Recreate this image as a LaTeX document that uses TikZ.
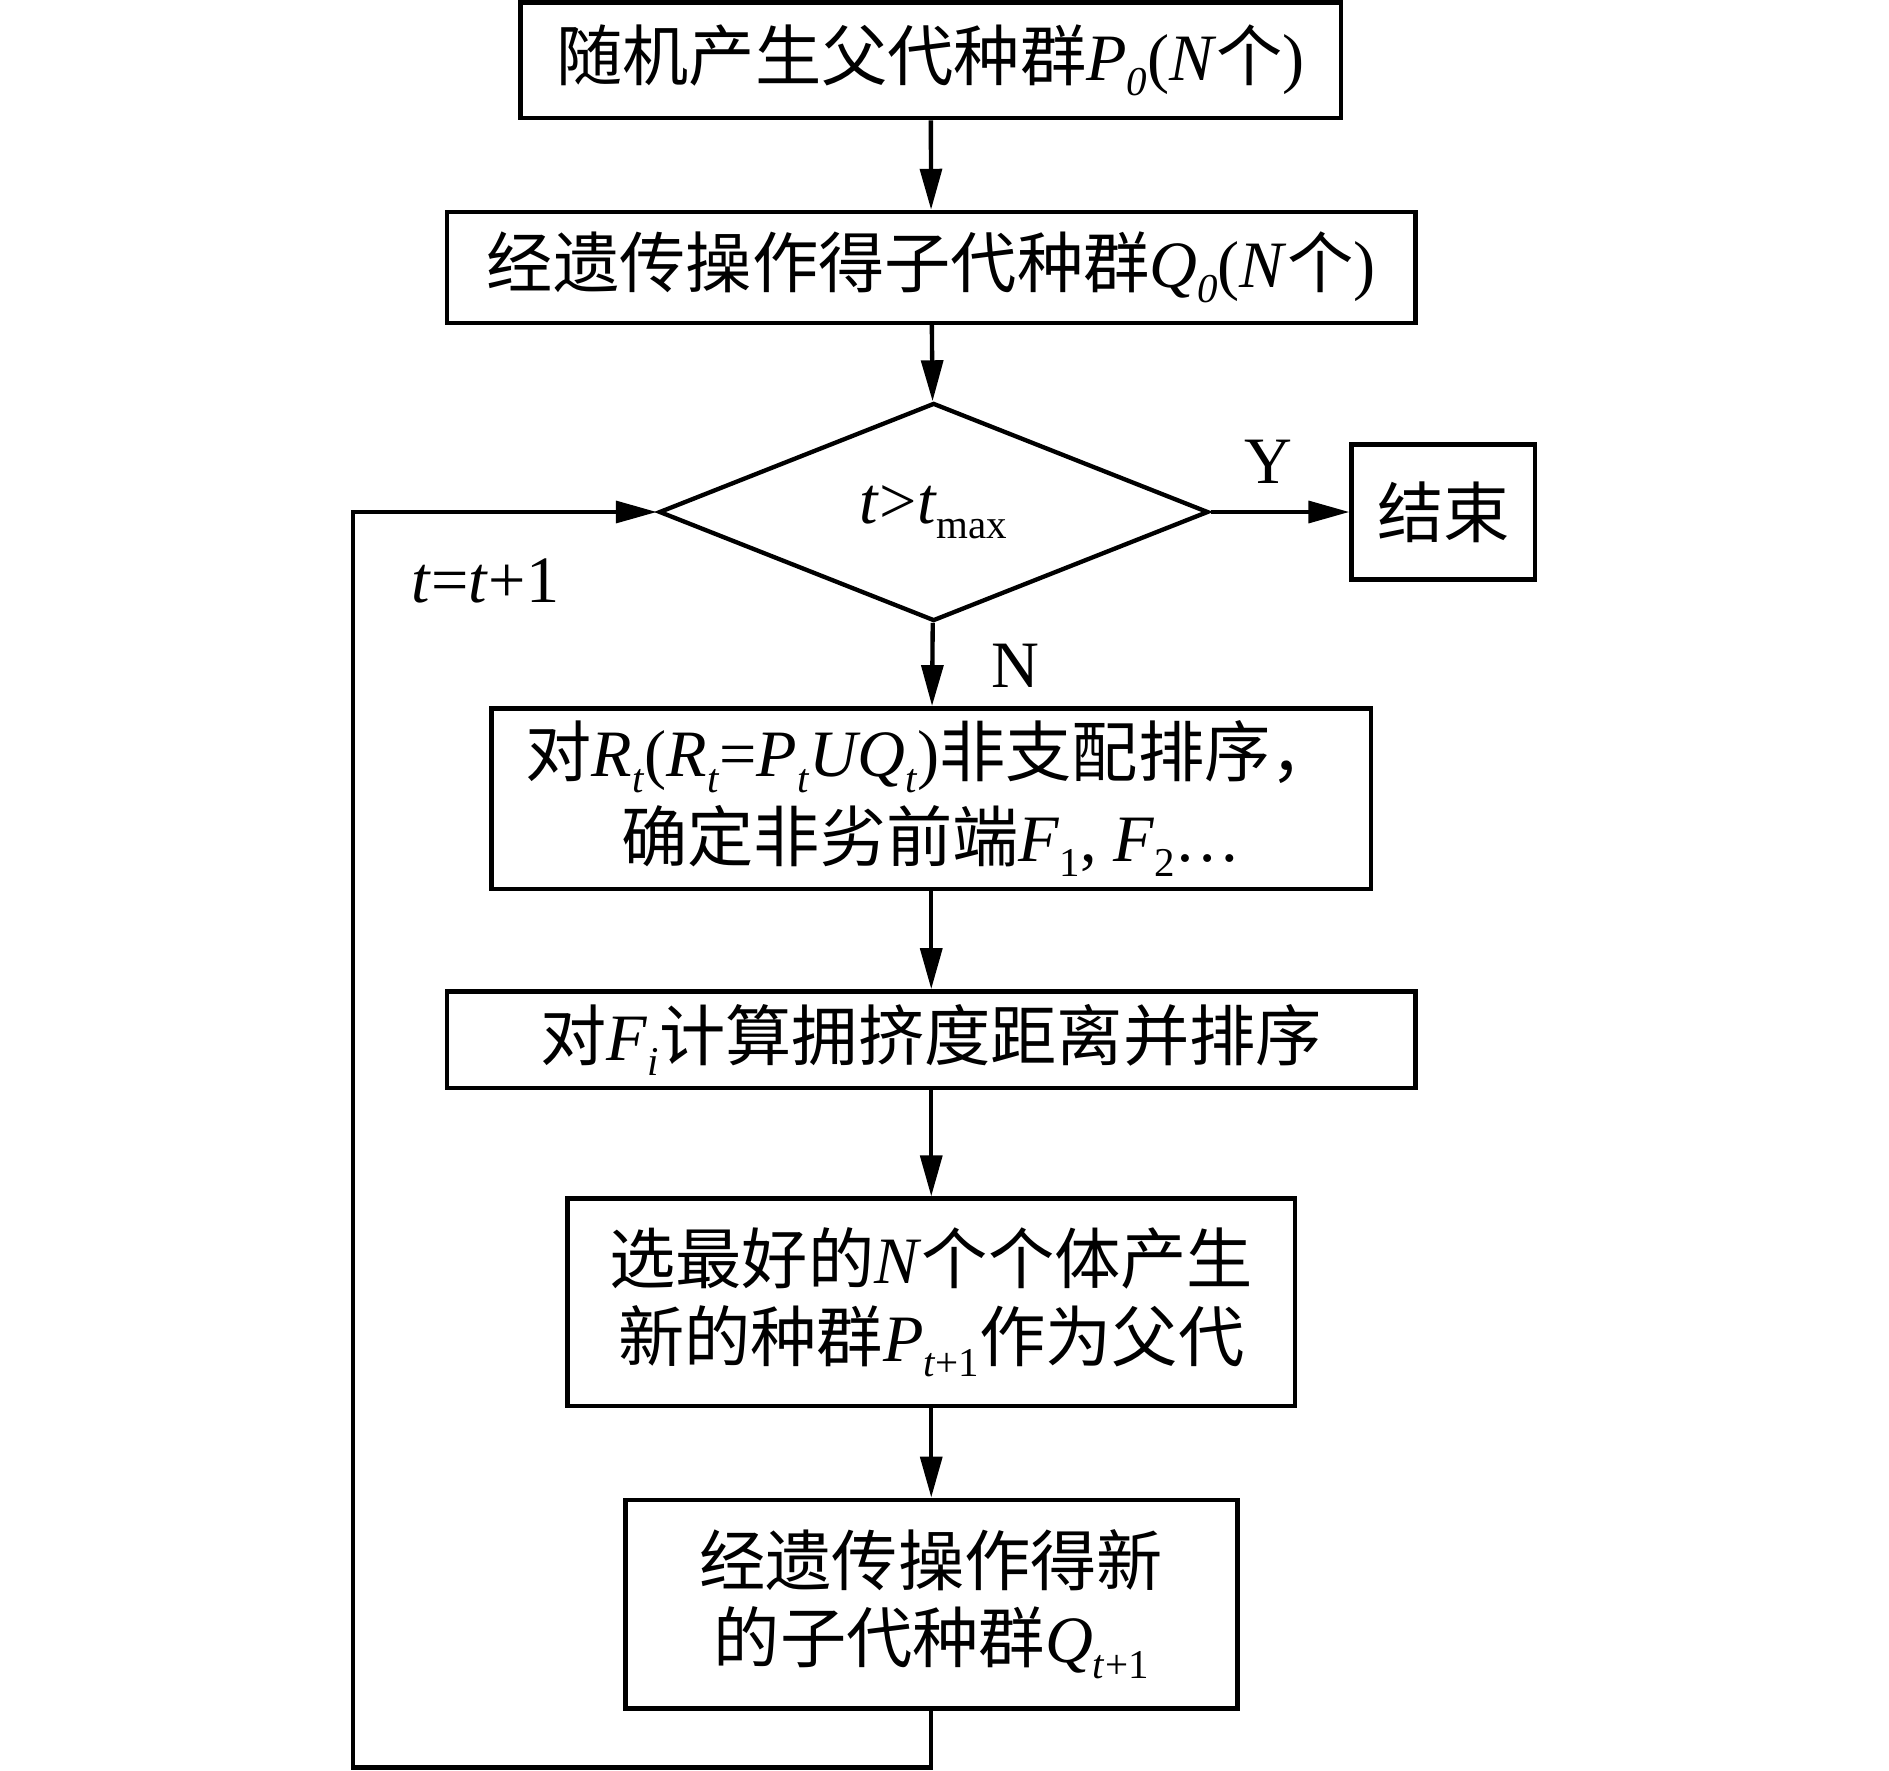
\documentclass[tikz,border=0pt]{standalone}
\usepackage{fontspec}
\setmainfont{Liberation Serif}
\newfontfamily\cjk{Noto Sans CJK SC}
\usetikzlibrary{arrows.meta,shapes.geometric}
\newcommand\zh[1]{{\cjk #1}}
\newcommand\sbs[1]{\raisebox{-0.5ex}{\fontsize{17}{17}\selectfont #1}}
\newcommand\iv[1]{\textit{#1}}
\begin{document}
\begin{tikzpicture}[x=0.5pt,y=-0.5pt,line width=1.8pt,
  font=\fontsize{27.5}{32}\selectfont,
  box/.style={draw,rectangle,inner sep=0pt,align=center,line width=1.9pt},
  arr/.style={-{Triangle[length=17pt,width=9pt]}},
  lbl/.style={inner sep=0pt}]
\useasboundingbox (0,0) rectangle (1568,1470);
\node[box,minimum width=340.5pt,minimum height=48pt] (b1) at (772.5,50)
  {\zh{随机产生父代种群}\iv{P}\sbs{\iv{0}}(\iv{N}\zh{个})};
\node[box,minimum width=402pt,minimum height=46pt] (b2) at (773,222)
  {\zh{经遗传操作得子代种群}\iv{Q}\sbs{\iv{0}}(\iv{N}\zh{个})};
\node[draw,diamond,inner sep=0pt,minimum width=228pt,minimum height=90.5pt,line width=1.8pt] (d) at (775,425)
  {\iv{t}>\iv{t}\sbs{max}};
\node[box,minimum width=76pt,minimum height=56pt] (end) at (1198,425) {\zh{结束}};
\node[box,minimum width=365pt,minimum height=75pt,font=\fontsize{27.5}{35}\selectfont] (b3) at (773,663)
  {\zh{对}\iv{R}\sbs{\iv{t}}(\iv{R}\sbs{\iv{t}}=\iv{P}\sbs{\iv{t}}\iv{UQ}\sbs{\iv{t}})\zh{非支配排序，}\\
   \zh{确定非劣前端}\iv{F}\sbs{1}, \iv{F}\sbs{2}\ldots};
\node[box,minimum width=402pt,minimum height=40pt] (b4) at (773,863)
  {\zh{对}\iv{F}\sbs{\iv{i}}\zh{计算拥挤度距离并排序}};
\node[box,minimum width=302pt,minimum height=86pt] (b5) at (773,1081)
  {\zh{选最好的}\iv{N}\zh{个个体产生}\\ \zh{新的种群}\iv{P}\sbs{\iv{t}+1}\zh{作为父代}};
\node[box,minimum width=254pt,minimum height=86.5pt] (b6) at (773,1331.5)
  {\zh{经遗传操作得新}\\ \zh{的子代种群}\iv{Q}\sbs{\iv{t}+1}};
\node[lbl] (y) at (1053,383) {Y};
\node[lbl] (n) at (843,553) {N};
\node[lbl] (inc) at (403,482) {\iv{t}=\iv{t}+1};
\coordinate (c1) at (773,1467);
\coordinate (c2) at (293,1467);
\coordinate (c3) at (293,425);
\draw[arr] (b1) -- (b2);
\draw[arr] (b2) -- (d);
\draw[arr] (d) -- (end);
\draw[arr] (d) -- (b3);
\draw[arr] (b3) -- (b4);
\draw[arr] (b4) -- (b5);
\draw[arr] (b5) -- (b6);
\draw[arr] (b6.south) -- (c1) -- (c2) -- (c3) -- (d.west);
\end{tikzpicture}
\end{document}
